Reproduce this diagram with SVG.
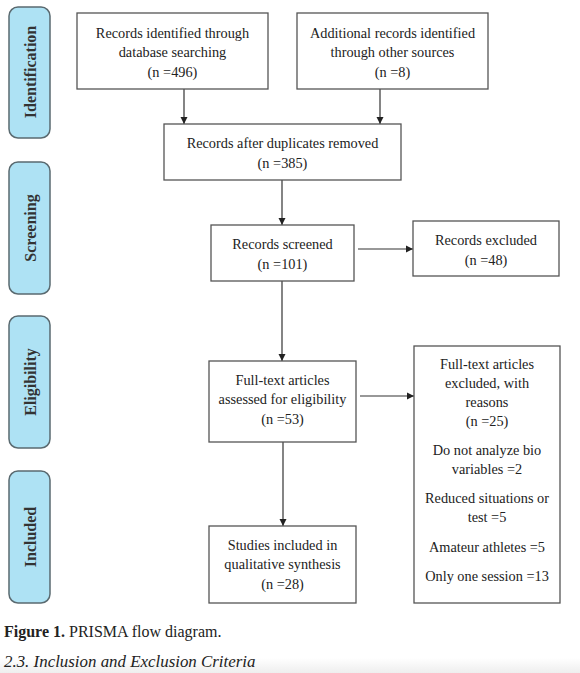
<svg xmlns="http://www.w3.org/2000/svg" width="580" height="673" viewBox="0 0 580 673">
<style>
.box{fill:#fff;stroke:#555;stroke-width:1.3}
.side{fill:#aee2f4;stroke:#5a6a70;stroke-width:1.5}
.t{font-family:"Liberation Serif",serif;font-size:14.3px;fill:#222;text-anchor:middle}
.s{font-family:"Liberation Serif",serif;font-size:16px;font-weight:bold;fill:#333;text-anchor:middle}
.c{font-family:"Liberation Serif",serif;font-size:16px;fill:#222}
.ci{font-family:"Liberation Serif",serif;font-size:16.9px;font-style:italic;fill:#222}
.ln{stroke:#333;stroke-width:1.2;fill:none;marker-end:url(#ah)}
</style>
<defs>
<marker id="ah" markerWidth="8" markerHeight="8" refX="7" refY="4" orient="auto" markerUnits="userSpaceOnUse">
<path d="M0,0.5 L7,4 L0,7.5 Z" fill="#222"/>
</marker>
<linearGradient id="bg" x1="0" y1="0" x2="0" y2="1">
<stop offset="0" stop-color="#ffffff"/>
<stop offset="1" stop-color="#eeeeee"/>
</linearGradient>
</defs>
<rect x="0" y="0" width="580" height="673" fill="#fff"/>
<rect x="0" y="658" width="580" height="15" fill="url(#bg)"/>

<g id="side-identification"><rect class="side" x="9" y="7" width="41" height="131" rx="9"/><text class="s" transform="translate(36,72) rotate(-90)">Identification</text></g>
<g id="side-screening"><rect class="side" x="9" y="162" width="41" height="132" rx="9"/><text class="s" transform="translate(36,228) rotate(-90)">Screening</text></g>
<g id="side-eligibility"><rect class="side" x="9" y="316" width="41" height="132" rx="9"/><text class="s" transform="translate(36,382) rotate(-90)">Eligibility</text></g>
<g id="side-included"><rect class="side" x="9" y="471" width="41" height="132" rx="9"/><text class="s" transform="translate(36,537) rotate(-90)">Included</text></g>

<g id="connectors">
<line class="ln" x1="184" y1="89" x2="184" y2="124"/>
<line class="ln" x1="380" y1="89" x2="380" y2="124"/>
<line class="ln" x1="282" y1="180" x2="282" y2="225"/>
<line class="ln" x1="358" y1="249" x2="413" y2="249"/>
<line class="ln" x1="282" y1="281" x2="282" y2="361"/>
<line class="ln" x1="360" y1="396" x2="414" y2="396"/>
<line class="ln" x1="283" y1="442" x2="283" y2="526"/>
</g>

<g id="n-database"><rect class="box" x="77" y="13" width="191" height="76"/>
<text class="t" x="172.5" y="37.5">Records identified through</text>
<text class="t" x="172.5" y="57">database searching</text>
<text class="t" x="172.5" y="76.5">(n =496)</text></g>

<g id="n-other"><rect class="box" x="297" y="13" width="191" height="76"/>
<text class="t" x="392.5" y="37.5">Additional records identified</text>
<text class="t" x="392.5" y="57">through other sources</text>
<text class="t" x="392.5" y="76.5">(n =8)</text></g>

<g id="n-duplicates"><rect class="box" x="164" y="124" width="237" height="56"/>
<text class="t" x="282.5" y="148">Records after duplicates removed</text>
<text class="t" x="282.5" y="167.5">(n =385)</text></g>

<g id="n-screened"><rect class="box" x="211" y="225" width="143" height="56"/>
<text class="t" x="282.5" y="249">Records screened</text>
<text class="t" x="282.5" y="268.5">(n =101)</text></g>

<g id="n-excluded"><rect class="box" x="413" y="221" width="146" height="55"/>
<text class="t" x="486" y="245">Records excluded</text>
<text class="t" x="486" y="264.5">(n =48)</text></g>

<g id="n-fulltext"><rect class="box" x="209" y="361" width="147" height="81"/>
<text class="t" x="282.5" y="385">Full-text articles</text>
<text class="t" x="282.5" y="404">assessed for eligibility</text>
<text class="t" x="282.5" y="423.5">(n =53)</text></g>

<g id="n-excluded-reasons"><rect class="box" x="414" y="346" width="146" height="257"/>
<text class="t" x="487" y="369">Full-text articles</text>
<text class="t" x="487" y="388">excluded, with</text>
<text class="t" x="487" y="407">reasons</text>
<text class="t" x="487" y="426">(n =25)</text>
<text class="t" x="487" y="455">Do not analyze bio</text>
<text class="t" x="487" y="474">variables =2</text>
<text class="t" x="487" y="503">Reduced situations or</text>
<text class="t" x="487" y="522">test =5</text>
<text class="t" x="487" y="551.5">Amateur athletes =5</text>
<text class="t" x="487" y="580.5">Only one session =13</text></g>

<g id="n-included"><rect class="box" x="209" y="526" width="147" height="77"/>
<text class="t" x="282.5" y="550">Studies included in</text>
<text class="t" x="282.5" y="569">qualitative synthesis</text>
<text class="t" x="282.5" y="588.5">(n =28)</text></g>

<text class="c" x="4" y="637"><tspan font-weight="bold">Figure 1.</tspan> PRISMA flow diagram.</text>
<text class="ci" x="4" y="667">2.3. Inclusion and Exclusion Criteria</text>
</svg>
